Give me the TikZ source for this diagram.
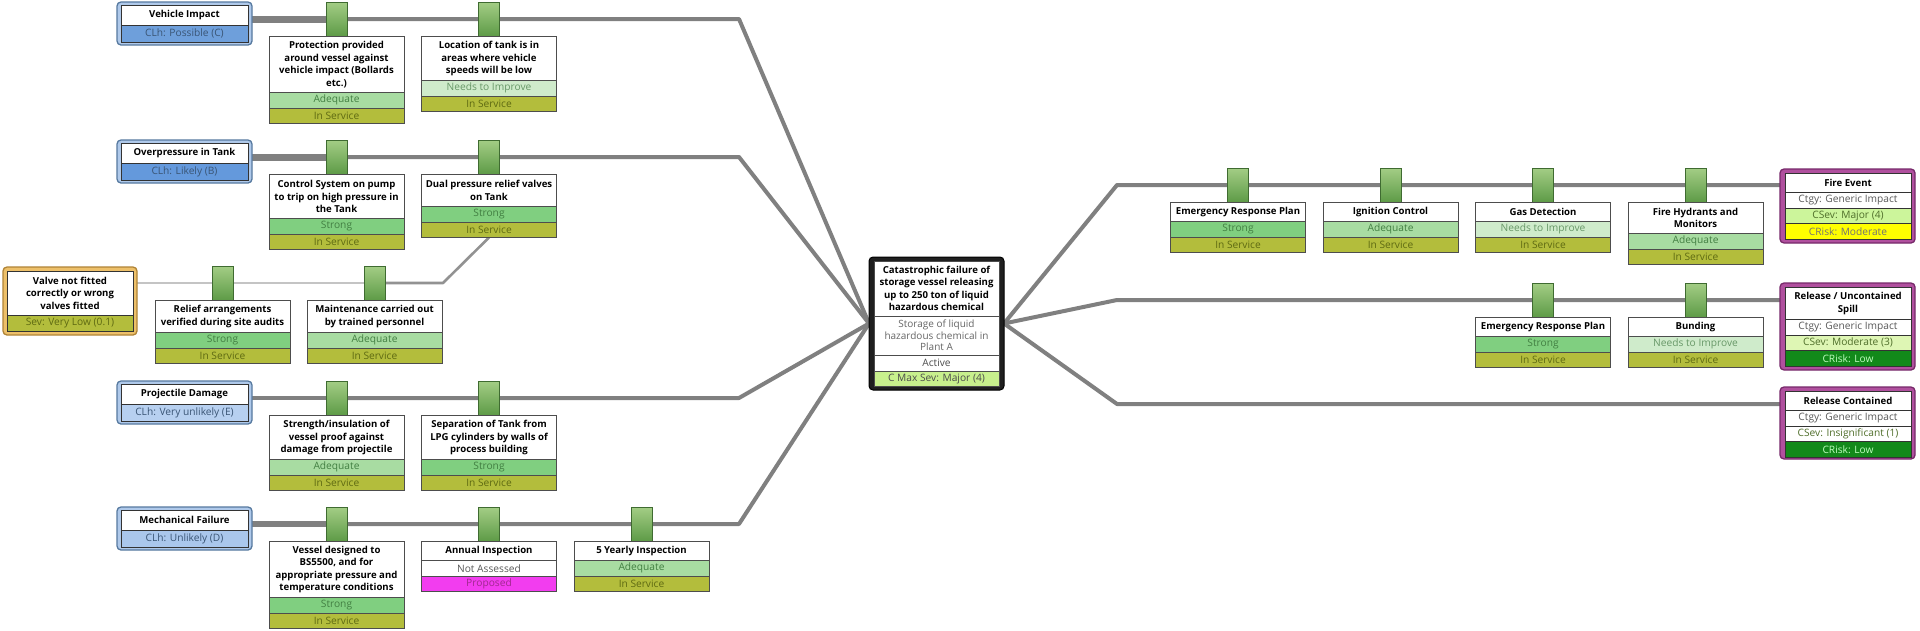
\documentclass[tikz,border=0pt]{standalone}
\usepackage{fontspec}
\setmainfont{Open Sans}
\usetikzlibrary{backgrounds}
\definecolor{lineg}{HTML}{808080}
\definecolor{escg}{HTML}{C4C4C4}
\definecolor{escd}{HTML}{929292}
\definecolor{bord}{HTML}{4D4D4D}
\definecolor{tabtop}{HTML}{A3CD85}
\definecolor{tabbot}{HTML}{5E9B47}
\definecolor{tabbord}{HTML}{3F6B31}
\definecolor{cStrong}{HTML}{80CF80}
\definecolor{cAdeq}{HTML}{A8DCA2}
\definecolor{cNeeds}{HTML}{CFEBCB}
\definecolor{cServ}{HTML}{B3BD3C}
\definecolor{cProp}{HTML}{F23DEF}
\definecolor{tGreen}{HTML}{427F42}
\definecolor{tServ}{HTML}{5E6A12}
\definecolor{tProp}{HTML}{A0288F}
\definecolor{thrFill}{HTML}{AFC9EA}
\definecolor{thrBord}{HTML}{56799F}
\definecolor{clhC}{HTML}{6E9FDB}
\definecolor{clhB}{HTML}{6499DC}
\definecolor{clhE}{HTML}{B7D0F0}
\definecolor{clhD}{HTML}{AAC7EC}
\definecolor{clhText}{HTML}{3A5575}
\definecolor{escFill}{HTML}{EDC06A}
\definecolor{escBord}{HTML}{B08436}
\definecolor{conFill}{HTML}{B0509E}
\definecolor{conBord}{HTML}{77296A}
\definecolor{sevMajor}{HTML}{CCF59B}
\definecolor{sevModer}{HTML}{DEF6B4}
\definecolor{riskMod}{HTML}{FFFF00}
\definecolor{riskLow}{HTML}{12891A}
\definecolor{maxSev}{HTML}{C8F08D}
\definecolor{sevText}{HTML}{4F6E2A}
\newcommand{\bowbf}{\fontsize{9.6}{12.5}\selectfont\bfseries}
\newcommand{\bowrm}{\fontsize{10.2}{11.5}\selectfont}
\tikzset{
  every node/.style={inner sep=0pt, outer sep=0pt},
  mainline/.style={draw=lineg, line width=4pt, line join=round},
  escthin/.style={draw=escg, line width=1.3pt},
  escthick/.style={draw=escd, line width=2.6pt, line join=round},
  btitle/.style={draw=bord, fill=white, line width=0.8pt, minimum width=135pt, align=center, font=\bowbf, text=black},
  brow/.style={draw=bord, line width=0.8pt, minimum width=135pt, minimum height=15.5pt, align=center, font=\bowrm},
  tabbox/.style={draw=tabbord, line width=0.8pt, top color=tabtop, bottom color=tabbot, minimum width=21pt, minimum height=34pt},
  eStrong/.style={fill=cStrong, text=tGreen},
  eAdequate/.style={fill=cAdeq, text=tGreen},
  eNeeds/.style={fill=cNeeds, text=tGreen!80},
  eNone/.style={fill=white, text=black!65},
  sService/.style={fill=cServ, text=tServ},
  sProposed/.style={fill=cProp, text=tProp},
  rMod/.style={fill=riskMod, text=black!55},
  rLow/.style={fill=riskLow, text=green!25!white},
  tframe/.style={draw=thrBord, fill=thrFill, line width=1.3pt, rounded corners=4pt, minimum width=135pt, minimum height=43pt},
  ttitle/.style={draw=black!80, fill=white, line width=0.8pt, minimum width=127pt, minimum height=20pt, align=center, font=\bowbf},
  trow/.style={draw=black!80, line width=0.8pt, minimum width=127pt, minimum height=17pt, align=center, font=\bowrm, text=clhText},
  cframe/.style={draw=conBord, fill=conFill, line width=1.3pt, rounded corners=4pt, minimum width=135pt},
  ctitle/.style={draw=black!80, fill=white, line width=0.8pt, minimum width=126pt, align=center, font=\bowbf},
  crow/.style={draw=black!80, line width=0.8pt, minimum width=126pt, minimum height=15.5pt, align=center, font=\bowrm},
}
\newcommand{\barr}[9]{%
  \node[tabbox] (#1-tab) at (#2,#3) {};
  \node[btitle, anchor=north, minimum height=#4pt] (#1) at (#2,#3+17.5) {#5};
  \node[brow, #6, anchor=north] (#1-e) at (#1.south) {#7};
  \node[brow, #8, anchor=north] (#1-s) at (#1-e.south) {#9};
}
\newcommand{\threat}[6]{%
  \node[tframe, anchor=north] (#1) at (#2,#3) {};
  \node[ttitle, anchor=north] (#1-t) at (#2,#3+3) {#4};
  \node[trow, fill=#5, anchor=north] (#1-r) at (#1-t.south) {#6};
}
\newcommand{\conseq}[9]{%
  \node[cframe, anchor=north, minimum height=#3pt] (#1) at (1847.5,#2) {};
  \node[ctitle, anchor=north, minimum height=#5pt] (#1-t) at (1848,#2+4.5) {#4};
  \node[crow, fill=white, text=black!65, anchor=north] (#1-c) at (#1-t.south) {Ctgy: Generic Impact};
  \node[crow, fill=#6, text=sevText, anchor=north] (#1-v) at (#1-c.south) {#7};
  \node[crow, #8, anchor=north] (#1-r) at (#1-v.south) {#9};
}
\begin{document}
\begin{tikzpicture}[x=1pt,y=-1pt]
\useasboundingbox (0,0) rectangle (1920,630);

% threats
\threat{veh}{184.5}{2}{Vehicle Impact}{clhC}{CLh: Possible (C)}
\threat{ovp}{184.5}{140}{Overpressure in Tank}{clhB}{CLh: Likely (B)}
\threat{prj}{184.5}{381}{Projectile Damage}{clhE}{CLh: Very unlikely (E)}
\threat{mec}{184.5}{507}{Mechanical Failure}{clhD}{CLh: Unlikely (D)}

% escalation factor
\node[draw=escBord, fill=escFill, line width=1.3pt, rounded corners=4pt, minimum width=134pt, minimum height=68pt, anchor=north] (valve) at (70,267) {};
\node[ttitle, minimum width=126pt, minimum height=44pt, anchor=north] (valve-t) at (70,271) {Valve not fitted\\correctly or wrong\\valves fitted};
\node[trow, minimum width=126pt, minimum height=16pt, fill=cServ, text=tServ, anchor=north] (valve-r) at (valve-t.south) {Sev: Very Low (0.1)};

% top event
\node[draw=black, fill=black!88, line width=1pt, rounded corners=4pt, minimum width=135pt, minimum height=133pt] (top) at (936.5,323.5) {};
\node[draw=black!70, fill=white, line width=0.6pt, minimum width=125pt, minimum height=55pt, align=center, font=\bowbf, anchor=north] (top-t) at (936.5,261) {Catastrophic failure of\\storage vessel releasing\\up to 250 ton of liquid\\hazardous chemical};
\node[draw=black!70, fill=white, line width=0.6pt, minimum width=125pt, minimum height=39pt, align=center, font=\fontsize{10}{11.3}\selectfont, text=black!60, anchor=north] (top-d) at (top-t.south) {Storage of liquid\\hazardous chemical in\\Plant A};
\node[draw=black!70, fill=white, line width=0.6pt, minimum width=125pt, minimum height=16pt, font=\bowrm, text=black!70, anchor=north] (top-a) at (top-d.south) {Active};
\node[draw=black!70, fill=maxSev, line width=0.6pt, minimum width=125pt, minimum height=15pt, font=\bowrm, text=black!70, anchor=north] (top-m) at (top-a.south) {C Max Sev: Major (4)};

% consequences
\conseq{fire}{169}{74}{Fire Event}{19}{sevMajor}{CSev: Major (4)}{rMod}{CRisk: Moderate}
\conseq{spill}{283}{87}{Release / Uncontained\\Spill}{32}{sevModer}{CSev: Moderate (3)}{rLow}{CRisk: Low}
\conseq{cont}{387}{72}{Release Contained}{19}{white}{CSev: Insignificant (1)}{rLow}{CRisk: Low}

% left barriers
\barr{veh1}{336.5}{19}{56}{Protection provided\\around vessel against\\vehicle impact (Bollards\\etc.)}{eAdequate}{Adequate}{sService}{In Service}
\barr{veh2}{489}{19}{44}{Location of tank is in\\areas where vehicle\\speeds will be low}{eNeeds}{Needs to Improve}{sService}{In Service}
\barr{ovp1}{336.5}{157}{44}{Control System on pump\\to trip on high pressure in\\the Tank}{eStrong}{Strong}{sService}{In Service}
\barr{ovp2}{489}{157}{32}{Dual pressure relief valves\\on Tank}{eStrong}{Strong}{sService}{In Service}
\barr{val1}{222.5}{283}{32}{Relief arrangements\\verified during site audits}{eStrong}{Strong}{sService}{In Service}
\barr{val2}{374.5}{283}{32}{Maintenance carried out\\by trained personnel}{eAdequate}{Adequate}{sService}{In Service}
\barr{prj1}{336.5}{398}{44}{Strength/insulation of\\vessel proof against\\damage from projectile}{eAdequate}{Adequate}{sService}{In Service}
\barr{prj2}{489}{398}{44}{Separation of Tank from\\LPG cylinders by walls of\\process building}{eStrong}{Strong}{sService}{In Service}
\barr{mec1}{336.5}{524}{56}{Vessel designed to\\BS5500, and for\\appropriate pressure and\\temperature conditions}{eStrong}{Strong}{sService}{In Service}
\barr{mec2}{489}{524}{19}{Annual Inspection}{eNone}{Not Assessed}{sProposed}{Proposed}
\barr{mec3}{641.5}{524}{19}{5 Yearly Inspection}{eAdequate}{Adequate}{sService}{In Service}

% right barriers
\barr{erp1}{1238}{185}{19}{Emergency Response Plan}{eStrong}{Strong}{sService}{In Service}
\barr{ign}{1390.5}{185}{19}{Ignition Control}{eAdequate}{Adequate}{sService}{In Service}
\barr{gas}{1543}{185}{19}{Gas Detection}{eNeeds}{Needs to Improve}{sService}{In Service}
\barr{hyd}{1695.5}{185}{31}{Fire Hydrants and\\Monitors}{eAdequate}{Adequate}{sService}{In Service}
\barr{erp2}{1543}{300}{19}{Emergency Response Plan}{eStrong}{Strong}{sService}{In Service}
\barr{bund}{1695.5}{300}{19}{Bunding}{eNeeds}{Needs to Improve}{sService}{In Service}

% connectors
\coordinate (cV) at (739,19);
\coordinate (cO) at (739,157);
\coordinate (cP) at (739,398);
\coordinate (cM) at (739,524);
\coordinate (cE) at (443,283);
\coordinate (rF) at (1117,185);
\coordinate (rR) at (1117,300);
\coordinate (rC) at (1117,404);
\begin{pgfonlayer}{background}
\fill[white] (0,0) rectangle (1920,630);
\draw[mainline, line width=7pt] (veh.east |- cV) -- (veh1-tab.center);
\draw[mainline] (veh1-tab.center) -- (cV) -- (top.west);
\draw[mainline, line width=7pt] (ovp.east |- cO) -- (ovp1-tab.center);
\draw[mainline] (ovp1-tab.center) -- (cO) -- (top.west);
\draw[mainline, line width=4.8pt] (prj.east |- cP) -- (prj1-tab.center);
\draw[mainline] (prj1-tab.center) -- (cP) -- (top.west);
\draw[mainline, line width=5.8pt] (mec.east |- cM) -- (mec1-tab.center);
\draw[mainline] (mec1-tab.center) -- (cM) -- (top.west);
\draw[escthin] (valve.east |- cE) -- (val2-tab.center);
\draw[escthick] (val2-tab.center) -- (cE) -- (ovp2-s.south);
\draw[mainline] (top.east) -- (rF) -- (rF -| fire.west);
\draw[mainline] (top.east) -- (rR) -- (rR -| spill.west);
\draw[mainline] (top.east) -- (rC) -- (rC -| cont.west);
\end{pgfonlayer}
\end{tikzpicture}
\end{document}
